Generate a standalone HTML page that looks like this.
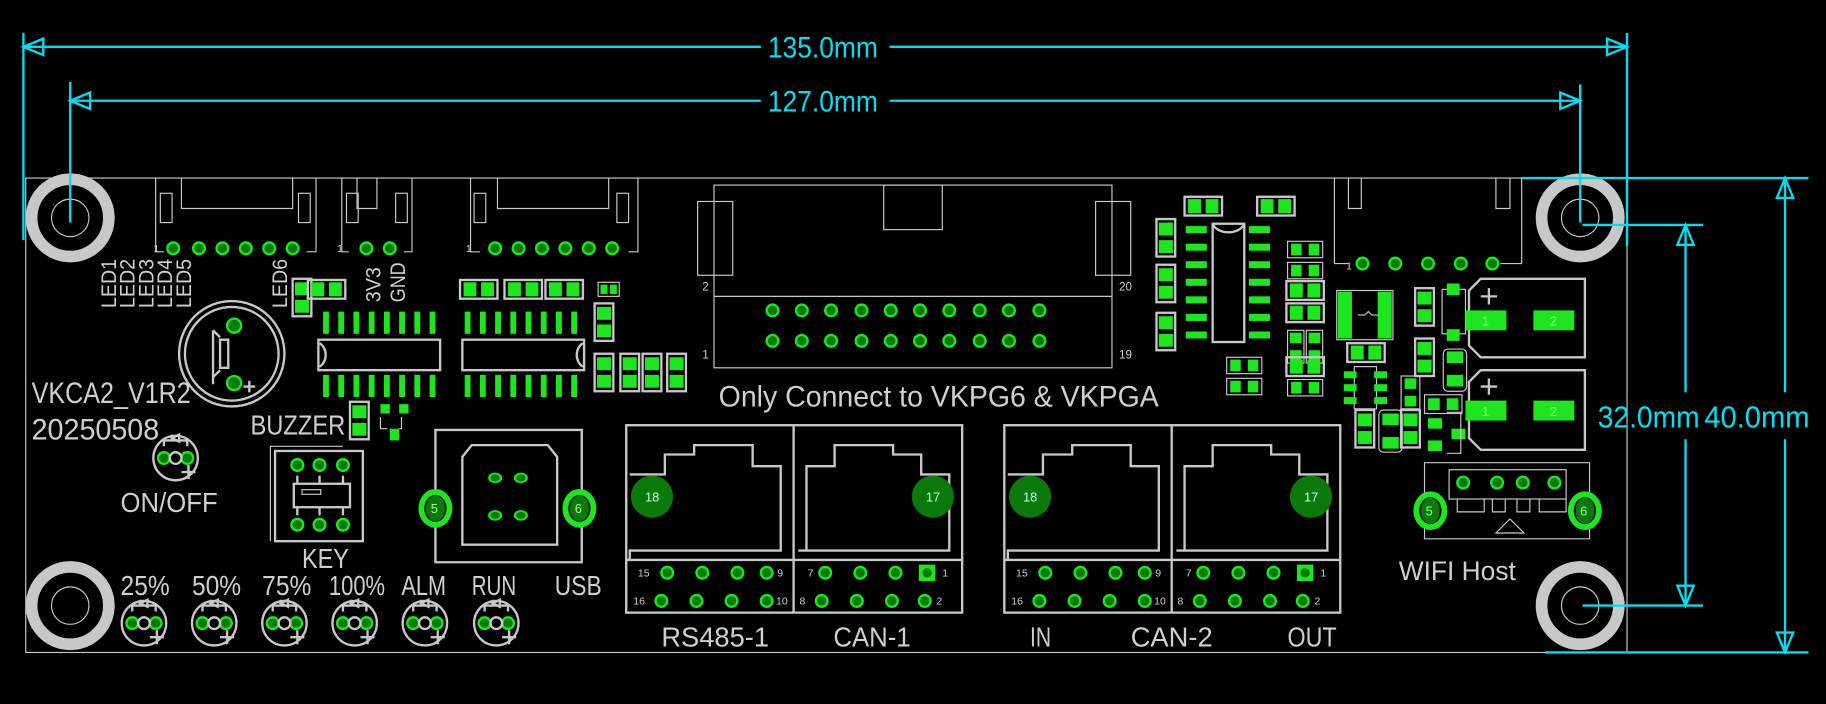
<!DOCTYPE html>
<html><head><meta charset="utf-8"><style>
html,body{margin:0;padding:0;background:#000;}
svg{display:block}
text{font-family:"Liberation Sans Narrow","Liberation Sans",sans-serif;fill:#cfcfcf}
.s{fill:none;stroke:#c8c8c8;stroke-width:2}
.t{fill:none;stroke:#c8c8c8;stroke-width:1}
.c{fill:none;stroke:#00e0f0;stroke-width:2}
.g{fill:#1ee61e}
.d{fill:#0a7a0a}
</style></head><body>
<svg width="1826" height="704" viewBox="0 0 1560 601" preserveAspectRatio="none" xmlns="http://www.w3.org/2000/svg">
<defs>
<g id="th"><circle r="6" class="g"/><circle r="4" class="d"/></g>
<g id="hole"><circle r="33" fill="none" stroke="#c8c8c8" stroke-width="10"/><circle r="16" class="t"/></g>
<g id="led"><circle r="19" class="s"/><circle cx="-10" cy="0" r="6" class="g"/><circle cx="-10" r="4" class="d"/><circle cx="10" r="6" class="g"/><circle cx="10" r="4" class="d"/><circle r="5" class="s"/><path d="M-10,-10 v-5 h20 v5 M-3,-15 v-5 M3,-15 v-5 M-3,-17 l6,-3 v6 z M5,12 h12 M11,6 v12" class="s"/></g>
<g id="hp"><rect x="-16" y="-8" width="32" height="16" class="s"/><rect x="-13" y="-6" width="11" height="12" class="g"/><rect x="2" y="-6" width="11" height="12" class="g"/></g>
<g id="vp"><rect x="-8" y="-16" width="16" height="32" class="s"/><rect x="-6" y="-13" width="12" height="11" class="g"/><rect x="-6" y="2" width="12" height="11" class="g"/></g>
<g id="big"><ellipse rx="12" ry="14" fill="none" stroke="#1ee61e" stroke-width="5"/><ellipse rx="8" ry="11" class="d"/></g>
</defs>

<rect x="22" y="152" width="1368" height="405" class="t"/>

<use href="#hole" x="60" y="186"/>
<use href="#hole" x="1350" y="186"/>
<use href="#hole" x="60" y="517"/>
<use href="#hole" x="1350" y="517"/>

<line x1="20" y1="28" x2="20" y2="205" class="c"/>
<line x1="1390" y1="28" x2="1390" y2="210" class="c"/>
<line x1="20" y1="40" x2="650" y2="40" class="c"/>
<line x1="760" y1="40" x2="1390" y2="40" class="c"/>
<path d="M20,40 L37,33 L37,47 Z M1390,40 L1373,33 L1373,47 Z" class="c"/>
<text x="656" y="49" font-size="25" textLength="94" lengthAdjust="spacingAndGlyphs" style="fill:#00e0f0">135.0mm</text>
<line x1="60" y1="70" x2="60" y2="190" class="c"/>
<line x1="1350" y1="72" x2="1350" y2="190" class="c"/>
<line x1="60" y1="86" x2="650" y2="86" class="c"/>
<line x1="760" y1="86" x2="1350" y2="86" class="c"/>
<path d="M60,86 L77,79 L77,93 Z M1350,86 L1333,79 L1333,93 Z" class="c"/>
<text x="656" y="95" font-size="25" textLength="94" lengthAdjust="spacingAndGlyphs" style="fill:#00e0f0">127.0mm</text>

<line x1="1300" y1="152" x2="1545" y2="152" class="c"/>
<line x1="1320" y1="557" x2="1545" y2="557" class="c"/>
<line x1="1525" y1="152" x2="1525" y2="335" class="c"/>
<line x1="1525" y1="375" x2="1525" y2="557" class="c"/>
<path d="M1525,152 L1518,169 L1532,169 Z M1525,557 L1518,540 L1532,540 Z" class="c"/>
<line x1="1352" y1="192" x2="1455" y2="192" class="c"/>
<line x1="1352" y1="517" x2="1455" y2="517" class="c"/>
<line x1="1440" y1="192" x2="1440" y2="335" class="c"/>
<line x1="1440" y1="375" x2="1440" y2="517" class="c"/>
<path d="M1440,192 L1433,209 L1447,209 Z M1440,517 L1433,500 L1447,500 Z" class="c"/>
<text x="1365" y="365" font-size="26" textLength="87" lengthAdjust="spacingAndGlyphs" style="fill:#00e0f0">32.0mm</text>
<text x="1456" y="365" font-size="26" textLength="90" lengthAdjust="spacingAndGlyphs" style="fill:#00e0f0">40.0mm</text>

<path d="M133,152 V215 H140 M270,152 V215 H262 M155,152 V178 H250 V152" class="t"/>
<rect x="137" y="165" width="10" height="25" class="t"/><rect x="255" y="165" width="10" height="25" class="t"/>
<text x="131" y="215" font-size="9">1</text>
<use href="#th" x="148" y="212"/><use href="#th" x="170" y="212"/><use href="#th" x="190" y="212"/><use href="#th" x="210" y="212"/><use href="#th" x="230" y="212"/><use href="#th" x="250" y="212"/>
<path d="M292,152 V215 H298 M352,152 V215 H345 M305,152 V178 H322 V152" class="t"/>
<rect x="296" y="165" width="10" height="25" class="t"/><rect x="338" y="165" width="10" height="25" class="t"/>
<text x="288" y="215" font-size="9">1</text>
<use href="#th" x="313" y="212"/><use href="#th" x="333" y="212"/>
<path d="M402,152 V215 H410 M545,152 V215 H537 M425,152 V178 H520 V152" class="t"/>
<rect x="405" y="165" width="10" height="25" class="t"/><rect x="527" y="165" width="10" height="25" class="t"/>
<text x="398" y="215" font-size="9">1</text>
<use href="#th" x="423" y="212"/><use href="#th" x="443" y="212"/><use href="#th" x="463" y="212"/><use href="#th" x="483" y="212"/><use href="#th" x="503" y="212"/><use href="#th" x="523" y="212"/>

<g font-size="18">
<text transform="translate(99,263) rotate(-90)" textLength="42" lengthAdjust="spacingAndGlyphs">LED1</text>
<text transform="translate(115,263) rotate(-90)" textLength="42" lengthAdjust="spacingAndGlyphs">LED2</text>
<text transform="translate(131,263) rotate(-90)" textLength="42" lengthAdjust="spacingAndGlyphs">LED3</text>
<text transform="translate(147,263) rotate(-90)" textLength="42" lengthAdjust="spacingAndGlyphs">LED4</text>
<text transform="translate(163,263) rotate(-90)" textLength="42" lengthAdjust="spacingAndGlyphs">LED5</text>
<text transform="translate(245,263) rotate(-90)" textLength="42" lengthAdjust="spacingAndGlyphs">LED6</text>
<text transform="translate(325,258) rotate(-90)" textLength="30" lengthAdjust="spacingAndGlyphs">3V3</text>
<text transform="translate(346,258) rotate(-90)" textLength="34" lengthAdjust="spacingAndGlyphs">GND</text>
</g>
<use href="#vp" x="258" y="254"/>
<use href="#hp" x="279" y="247"/>

<circle cx="198" cy="302" r="45" class="s"/><circle cx="198" cy="302" r="40" class="s"/>
<circle cx="200" cy="278" r="7" class="g"/><circle cx="200" cy="278" r="5" class="d"/>
<circle cx="200" cy="327" r="7" class="g"/><circle cx="200" cy="327" r="5" class="d"/>
<path d="M188,290 v24 h7 v-24 z M188,288 l-6,-6 M188,316 l-6,6 M182,282 v46" class="s"/>
<path d="M208,330 h10 M213,325 v10" class="s"/>

<g class="g">
<rect x="276" y="266" width="5" height="19"/><rect x="289" y="266" width="5" height="19"/><rect x="302" y="266" width="5" height="19"/><rect x="315" y="266" width="5" height="19"/><rect x="328" y="266" width="5" height="19"/><rect x="341" y="266" width="5" height="19"/><rect x="354" y="266" width="5" height="19"/><rect x="367" y="266" width="5" height="19"/>
<rect x="276" y="320" width="5" height="19"/><rect x="289" y="320" width="5" height="19"/><rect x="302" y="320" width="5" height="19"/><rect x="315" y="320" width="5" height="19"/><rect x="328" y="320" width="5" height="19"/><rect x="341" y="320" width="5" height="19"/><rect x="354" y="320" width="5" height="19"/><rect x="367" y="320" width="5" height="19"/>
</g>
<rect x="272" y="290" width="104" height="26" class="s"/>
<path d="M273,293 a9,11 0 0 1 0,20" class="s"/>
<use href="#hp" x="409" y="247"/><use href="#hp" x="447" y="247"/><use href="#hp" x="482" y="247"/>
<g class="g">
<rect x="397" y="266" width="5" height="19"/><rect x="410" y="266" width="5" height="19"/><rect x="423" y="266" width="5" height="19"/><rect x="436" y="266" width="5" height="19"/><rect x="449" y="266" width="5" height="19"/><rect x="462" y="266" width="5" height="19"/><rect x="475" y="266" width="5" height="19"/><rect x="488" y="266" width="5" height="19"/>
<rect x="397" y="320" width="5" height="19"/><rect x="410" y="320" width="5" height="19"/><rect x="423" y="320" width="5" height="19"/><rect x="436" y="320" width="5" height="19"/><rect x="449" y="320" width="5" height="19"/><rect x="462" y="320" width="5" height="19"/><rect x="475" y="320" width="5" height="19"/><rect x="488" y="320" width="5" height="19"/>
</g>
<rect x="395" y="290" width="104" height="26" class="s"/>
<path d="M498,293 a9,11 0 0 0 0,20" class="s"/>
<g transform="translate(520,247)"><rect x="-9" y="-6" width="18" height="12" class="t"/><rect x="-7" y="-4" width="6" height="8" class="g"/><rect x="1" y="-4" width="6" height="8" class="g"/></g>
<use href="#vp" x="516" y="275"/>
<use href="#vp" x="516" y="318"/>
<use href="#vp" x="538" y="318"/>
<use href="#vp" x="557" y="318"/>
<use href="#vp" x="578" y="318"/>

<rect x="610" y="158" width="340" height="156" class="t"/>
<rect x="755" y="158" width="50" height="38" class="t"/>
<rect x="596" y="172" width="30" height="63" class="t"/>
<rect x="936" y="172" width="30" height="63" class="t"/>
<line x1="610" y1="253" x2="950" y2="253" class="t"/>
<g font-size="10"><text x="600" y="248">2</text><text x="956" y="248">20</text><text x="600" y="306">1</text><text x="956" y="306">19</text></g>
<g>
<use href="#th" x="660" y="265"/><use href="#th" x="685" y="265"/><use href="#th" x="710" y="265"/><use href="#th" x="736" y="265"/><use href="#th" x="761" y="265"/><use href="#th" x="786" y="265"/><use href="#th" x="811" y="265"/><use href="#th" x="837" y="265"/><use href="#th" x="862" y="265"/><use href="#th" x="888" y="265"/>
<use href="#th" x="660" y="291"/><use href="#th" x="685" y="291"/><use href="#th" x="710" y="291"/><use href="#th" x="736" y="291"/><use href="#th" x="761" y="291"/><use href="#th" x="786" y="291"/><use href="#th" x="811" y="291"/><use href="#th" x="837" y="291"/><use href="#th" x="862" y="291"/><use href="#th" x="888" y="291"/>
</g>
<text x="614" y="347" font-size="25" textLength="376" lengthAdjust="spacingAndGlyphs">Only Connect to VKPG6 &amp; VKPGA</text>

<use href="#hp" x="1028" y="176"/><use href="#hp" x="1090" y="176"/>
<use href="#vp" x="996" y="203"/><use href="#vp" x="996" y="242"/><use href="#vp" x="996" y="283"/>
<g class="g">
<rect x="1013" y="193" width="18" height="6"/><rect x="1013" y="208" width="18" height="6"/><rect x="1013" y="223" width="18" height="6"/><rect x="1013" y="238" width="18" height="6"/><rect x="1013" y="253" width="18" height="6"/><rect x="1013" y="268" width="18" height="6"/><rect x="1013" y="283" width="18" height="6"/>
<rect x="1067" y="193" width="18" height="6"/><rect x="1067" y="208" width="18" height="6"/><rect x="1067" y="223" width="18" height="6"/><rect x="1067" y="238" width="18" height="6"/><rect x="1067" y="253" width="18" height="6"/><rect x="1067" y="268" width="18" height="6"/><rect x="1067" y="283" width="18" height="6"/>
</g>
<rect x="1036" y="191" width="27" height="101" class="s"/>
<path d="M1036,191 a14,10 0 0 0 27,0" class="s"/>
<g transform="translate(1115,213)"><rect x="-15" y="-7" width="30" height="14" class="t"/><rect x="-12" y="-5" width="9" height="10" class="g"/><rect x="3" y="-5" width="9" height="10" class="g"/></g>
<g transform="translate(1115,231)"><rect x="-15" y="-7" width="30" height="14" class="t"/><rect x="-12" y="-5" width="9" height="10" class="g"/><rect x="3" y="-5" width="9" height="10" class="g"/></g>
<use href="#hp" x="1115" y="248"/><use href="#hp" x="1115" y="267"/>
<g transform="translate(1107,296)"><rect x="-7" y="-14" width="14" height="28" class="t"/><rect x="-5" y="-12" width="10" height="9" class="g"/><rect x="-5" y="3" width="10" height="9" class="g"/></g>
<g transform="translate(1123,296)"><rect x="-7" y="-14" width="14" height="28" class="t"/><rect x="-5" y="-12" width="10" height="9" class="g"/><rect x="-5" y="3" width="10" height="9" class="g"/></g>
<use href="#hp" x="1115" y="313"/>
<g transform="translate(1115,331)"><rect x="-15" y="-7" width="30" height="14" class="t"/><rect x="-12" y="-5" width="9" height="10" class="g"/><rect x="3" y="-5" width="9" height="10" class="g"/></g>
<g transform="translate(1063,312)"><rect x="-15" y="-7" width="30" height="14" class="t"/><rect x="-12" y="-5" width="9" height="10" class="g"/><rect x="3" y="-5" width="9" height="10" class="g"/></g>
<g transform="translate(1063,330)"><rect x="-15" y="-7" width="30" height="14" class="t"/><rect x="-12" y="-5" width="9" height="10" class="g"/><rect x="3" y="-5" width="9" height="10" class="g"/></g>

<path d="M1140,152 V225 H1152 M1300,152 V225 H1282 M1152,152 V178 H1163 V152 M1278,152 V178 H1290 V152" class="t"/>
<text x="1150" y="230" font-size="9">1</text>
<use href="#th" x="1164" y="225"/><use href="#th" x="1192" y="225"/><use href="#th" x="1220" y="225"/><use href="#th" x="1248" y="225"/><use href="#th" x="1275" y="225"/>
<rect x="1142" y="248" width="48" height="42" class="t"/>
<rect x="1143" y="249" width="12" height="40" class="g"/><rect x="1177" y="249" width="12" height="40" class="g"/>
<path d="M1160,269 h6 l3,-3 l3,3 h6" class="t"/>
<use href="#hp" x="1167" y="301"/>
<rect x="1157" y="313" width="19" height="36" class="t"/>
<g class="g"><rect x="1148" y="317" width="11" height="6"/><rect x="1148" y="328" width="11" height="6"/><rect x="1148" y="339" width="11" height="6"/><rect x="1174" y="317" width="11" height="6"/><rect x="1174" y="328" width="11" height="6"/><rect x="1174" y="339" width="11" height="6"/></g>
<use href="#vp" x="1217" y="262"/>
<rect x="1232" y="247" width="20" height="38" class="t"/><rect x="1236" y="242" width="11" height="10" class="g"/><rect x="1236" y="281" width="11" height="10" class="g"/>
<use href="#vp" x="1217" y="305"/>
<rect x="1233" y="298" width="20" height="36" rx="4" class="t"/><rect x="1236" y="300" width="14" height="10" class="g"/><rect x="1236" y="320" width="14" height="10" class="g"/>
<g transform="translate(1205,335)"><rect x="-8" y="-14" width="16" height="28" class="t"/><rect x="-5" y="-12" width="10" height="9" class="g"/><rect x="-5" y="3" width="10" height="9" class="g"/></g>
<g transform="translate(1233,345)"><rect x="-16" y="-8" width="32" height="16" class="t"/><rect x="-13" y="-5" width="10" height="10" class="g"/><rect x="3" y="-5" width="10" height="10" class="g"/></g>
<use href="#vp" x="1166" y="366"/>
<rect x="1178" y="350" width="20" height="36" rx="4" class="t"/><rect x="1181" y="353" width="14" height="10" class="g"/><rect x="1181" y="373" width="14" height="10" class="g"/>
<use href="#vp" x="1205" y="366"/>
<rect x="1220" y="357" width="12" height="9" class="g"/><rect x="1220" y="376" width="12" height="9" class="g"/><rect x="1240" y="366" width="12" height="9" class="g"/>
<path d="M1236,352 h12 v35 h-12" class="t"/>
<path d="M1265,238 H1354 V305 H1265 L1255,295 V248 Z" class="s"/>
<path d="M1265,316 H1354 V384 H1265 L1255,374 V326 Z" class="s"/>
<path d="M1265,253 h14 M1272,246 v14 M1265,330 h14 M1272,323 v14" class="s" stroke-width="3"/>
<rect x="1252" y="265" width="35" height="17" class="g"/><rect x="1310" y="265" width="35" height="17" class="g"/>
<rect x="1252" y="342" width="35" height="17" class="g"/><rect x="1310" y="342" width="35" height="17" class="g"/>
<g font-size="11"><text x="1266" y="278" style="fill:#9f9">1</text><text x="1324" y="278" style="fill:#9f9">2</text><text x="1266" y="355" style="fill:#9f9">1</text><text x="1324" y="355" style="fill:#9f9">2</text></g>

<path d="M1217,422 V395 H1358 V422 M1217,448 V460 H1358 V448" class="t"/>
<rect x="1238" y="401" width="100" height="25" class="t"/>
<path d="M1245,426 v11 h23 v-11 M1275,426 v11 h11 v-11 M1296,426 v11 h11 v-11 M1315,426 v11 h23 v-11 M1278,455 l12,-12 l12,12 z" class="t"/>
<use href="#th" x="1250" y="412"/><use href="#th" x="1279" y="412"/><use href="#th" x="1301" y="412"/><use href="#th" x="1328" y="412"/>
<use href="#big" x="1222" y="436"/><use href="#big" x="1354" y="436"/>
<g font-size="11"><text x="1218" y="440" style="fill:#9f9">5</text><text x="1350" y="440" style="fill:#9f9">6</text></g>
<text x="1195" y="495" font-size="23" textLength="100" lengthAdjust="spacingAndGlyphs">WIFI Host</text>

<text x="27" y="344" font-size="25" textLength="136" lengthAdjust="spacingAndGlyphs">VKCA2_V1R2</text>
<text x="27" y="375" font-size="25" textLength="109" lengthAdjust="spacingAndGlyphs">20250508</text>
<use href="#led" x="150" y="391"/>
<text x="103" y="437" font-size="24" textLength="83" lengthAdjust="spacingAndGlyphs">ON/OFF</text>
<text x="214" y="371" font-size="24" textLength="81" lengthAdjust="spacingAndGlyphs">BUZZER</text>
<use href="#vp" x="307" y="359"/>
<rect x="325" y="345" width="8" height="8" class="g"/><rect x="341" y="345" width="8" height="8" class="g"/><rect x="333" y="366" width="8" height="10" class="g"/>
<path d="M325,356 v10 h6 M343,356 v10 h-2" class="t"/>

<path d="M231,462 V381 H293" class="t"/>
<rect x="235" y="385" width="75" height="77" class="s"/>
<use href="#th" x="254" y="397"/><use href="#th" x="273" y="397"/><use href="#th" x="293" y="397"/>
<use href="#th" x="254" y="448"/><use href="#th" x="273" y="448"/><use href="#th" x="293" y="448"/>
<rect x="251" y="413" width="48" height="20" class="s"/>
<rect x="258" y="418" width="16" height="4" class="t"/>
<path d="M254,406 v7 M273,406 v7 M293,406 v7 M254,433 v7 M273,433 v7 M293,433 v7" class="s"/>
<text x="258" y="485" font-size="24" textLength="40" lengthAdjust="spacingAndGlyphs">KEY</text>

<path d="M372,420 V367 H497 V420 M372,448 V480 H497 V448" class="s"/>
<path d="M403,380 H468 L476,390 V465 H395 V390 Z" class="s"/>
<ellipse cx="423" cy="408" rx="6" ry="4.5" class="g"/><ellipse cx="423" cy="408" rx="4" ry="3" class="d"/>
<ellipse cx="445" cy="408" rx="6" ry="4.5" class="g"/><ellipse cx="445" cy="408" rx="4" ry="3" class="d"/>
<ellipse cx="423" cy="440" rx="6" ry="4.5" class="g"/><ellipse cx="423" cy="440" rx="4" ry="3" class="d"/>
<ellipse cx="445" cy="440" rx="6" ry="4.5" class="g"/><ellipse cx="445" cy="440" rx="4" ry="3" class="d"/>
<use href="#big" x="372" y="434"/><use href="#big" x="495" y="434"/>
<g font-size="11"><text x="368" y="438" style="fill:#9f9">5</text><text x="491" y="438" style="fill:#9f9">6</text></g>
<text x="474" y="508" font-size="24" textLength="40" lengthAdjust="spacingAndGlyphs">USB</text>

<g font-size="24">
<text x="103" y="508" textLength="42" lengthAdjust="spacingAndGlyphs">25%</text>
<text x="164" y="508" textLength="42" lengthAdjust="spacingAndGlyphs">50%</text>
<text x="224" y="508" textLength="42" lengthAdjust="spacingAndGlyphs">75%</text>
<text x="281" y="508" textLength="48" lengthAdjust="spacingAndGlyphs">100%</text>
<text x="343" y="508" textLength="38" lengthAdjust="spacingAndGlyphs">ALM</text>
<text x="403" y="508" textLength="38" lengthAdjust="spacingAndGlyphs">RUN</text>
</g>
<use href="#led" x="123" y="532"/><use href="#led" x="183" y="532"/><use href="#led" x="243" y="532"/><use href="#led" x="303" y="532"/><use href="#led" x="363" y="532"/><use href="#led" x="424" y="532"/>

<g id="rj">
<rect x="535" y="363" width="287" height="160" class="s"/>
<line x1="678" y1="363" x2="678" y2="523" class="s"/>
<line x1="535" y1="478" x2="822" y2="478" class="s"/>
<path d="M538,478 V470 H667 V398 H643 V380 H593 V388 H568 V405 H538" class="s"/>
<path d="M682,470 H811 V405 H787 V388 H763 V380 H713 V398 H689 V470" class="s"/>
</g>
<circle cx="557" cy="424" r="18" fill="#0b7a0b"/><text x="551" y="428" font-size="11" style="fill:#cfe">18</text>
<circle cx="797" cy="424" r="18" fill="#0b7a0b"/><text x="791" y="428" font-size="11" style="fill:#cfe">17</text>
<use href="#th" x="570" y="489"/><use href="#th" x="600" y="489"/><use href="#th" x="630" y="489"/><use href="#th" x="655" y="489"/>
<use href="#th" x="565" y="513"/><use href="#th" x="595" y="513"/><use href="#th" x="625" y="513"/><use href="#th" x="655" y="513"/>
<use href="#th" x="705" y="489"/><use href="#th" x="735" y="489"/><use href="#th" x="765" y="489"/><rect x="785" y="482" width="14" height="14" class="g"/><circle cx="792" cy="489" r="4" class="d"/>
<use href="#th" x="702" y="513"/><use href="#th" x="732" y="513"/><use href="#th" x="762" y="513"/><use href="#th" x="790" y="513"/>
<g font-size="9"><text x="545" y="492">15</text><text x="664" y="492">9</text><text x="541" y="516">16</text><text x="663" y="516">10</text><text x="690" y="492">7</text><text x="805" y="492">1</text><text x="683" y="516">8</text><text x="800" y="516">2</text></g>
<text x="565" y="552" font-size="24" textLength="92" lengthAdjust="spacingAndGlyphs">RS485-1</text>
<text x="712" y="552" font-size="24" textLength="66" lengthAdjust="spacingAndGlyphs">CAN-1</text>

<use href="#rj" x="323"/>
<circle cx="880" cy="424" r="18" fill="#0b7a0b"/><text x="874" y="428" font-size="11" style="fill:#cfe">18</text>
<circle cx="1120" cy="424" r="18" fill="#0b7a0b"/><text x="1114" y="428" font-size="11" style="fill:#cfe">17</text>
<use href="#th" x="893" y="489"/><use href="#th" x="923" y="489"/><use href="#th" x="953" y="489"/><use href="#th" x="978" y="489"/>
<use href="#th" x="888" y="513"/><use href="#th" x="918" y="513"/><use href="#th" x="948" y="513"/><use href="#th" x="978" y="513"/>
<use href="#th" x="1028" y="489"/><use href="#th" x="1058" y="489"/><use href="#th" x="1088" y="489"/><rect x="1108" y="482" width="14" height="14" class="g"/><circle cx="1115" cy="489" r="4" class="d"/>
<use href="#th" x="1025" y="513"/><use href="#th" x="1055" y="513"/><use href="#th" x="1085" y="513"/><use href="#th" x="1113" y="513"/>
<g font-size="9"><text x="868" y="492">15</text><text x="987" y="492">9</text><text x="864" y="516">16</text><text x="986" y="516">10</text><text x="1013" y="492">7</text><text x="1128" y="492">1</text><text x="1006" y="516">8</text><text x="1123" y="516">2</text></g>
<text x="880" y="552" font-size="24" textLength="18" lengthAdjust="spacingAndGlyphs">IN</text>
<text x="966" y="552" font-size="24" textLength="70" lengthAdjust="spacingAndGlyphs">CAN-2</text>
<text x="1100" y="552" font-size="24" textLength="42" lengthAdjust="spacingAndGlyphs">OUT</text>
</svg>
</body></html>
